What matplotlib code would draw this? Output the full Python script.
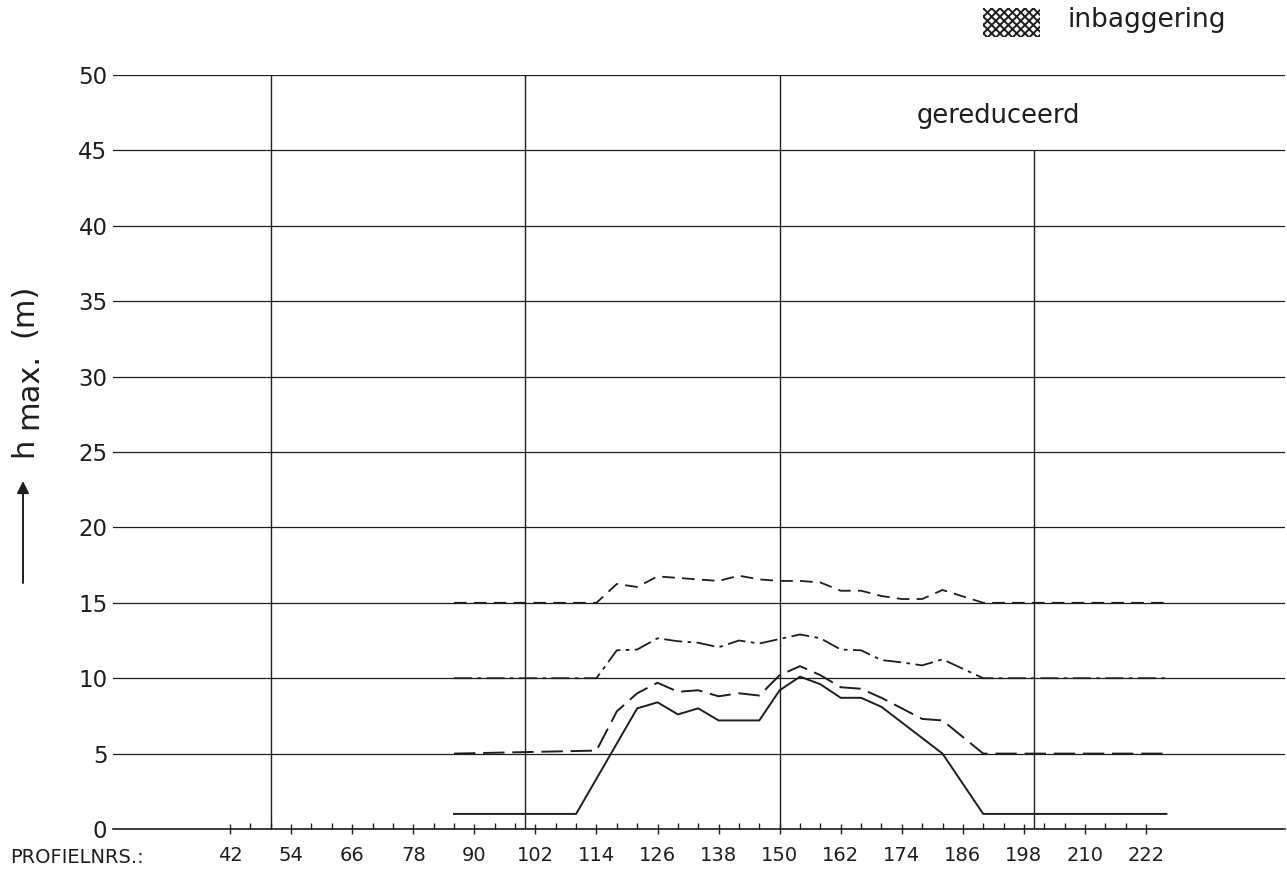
import matplotlib
matplotlib.use("Agg")
import matplotlib.pyplot as plt
from matplotlib.patches import Rectangle, FancyArrowPatch

plt.rcParams['font.family'] = ['DejaVu Sans']

INK = '#1c1f1c'

# profile numbers and h_max (m), four reduced curves
prof_solid = [86, 110, 122, 126, 130, 134, 138, 146, 150, 154, 158, 162, 166, 170, 182, 190, 226]
h_solid = [1.0, 1.0, 8.0, 8.4, 7.6, 8.0, 7.2, 7.2, 9.2, 10.1, 9.6, 8.7, 8.7, 8.1, 5.0, 1.0, 1.0]

prof_curves = [86, 114, 118, 122, 126, 130, 134, 138, 142, 146, 150, 154, 158, 162, 166, 170, 174, 178, 182, 190, 226]
h_longdash = [5.0, 5.2, 7.8, 9.0, 9.7, 9.1, 9.2, 8.8, 9.0, 8.85, 10.2, 10.8, 10.2, 9.4, 9.3, 8.7, 8.0, 7.3, 7.2, 5.0, 5.0]
h_dashdot = [10.0, 10.0, 11.85, 11.9, 12.65, 12.45, 12.35, 12.05, 12.5, 12.3, 12.6, 12.9, 12.65, 11.9, 11.85, 11.2, 11.05, 10.85, 11.25, 10.0, 10.0]
h_dashed = [15.0, 15.0, 16.25, 16.05, 16.75, 16.65, 16.55, 16.45, 16.8, 16.55, 16.45, 16.45, 16.35, 15.8, 15.8, 15.45, 15.25, 15.25, 15.85, 15.0, 15.0]

major_ticks = list(range(42, 223, 12))
minor_ticks = [p for p in range(42, 223, 4) if p not in major_ticks]
y_ticks = list(range(0, 51, 5))
v_grid = [50, 100, 150]

W, H = 1287, 876
fig = plt.figure(figsize=(W / 100, H / 100), dpi=100)
ax = fig.add_axes([113 / W, 47 / H, 1172 / W, 754 / H])
ax.set_xlim(19, 249.3)
ax.set_ylim(0, 50)

for s in ['top', 'right', 'left']:
    ax.spines[s].set_visible(False)
ax.spines['bottom'].set_color(INK)
ax.spines['bottom'].set_linewidth(1.2)

# grid
ax.set_yticks(y_ticks)
ax.yaxis.grid(True, color=INK, lw=0.9)
ax.vlines(v_grid, 0, 50, color=INK, lw=1.0)
ax.vlines(200, 0, 45, color=INK, lw=1.0)
ax.tick_params(axis='y', length=0, pad=4, labelsize=16.5, labelcolor=INK)

ax.set_xticks(major_ticks)
ax.set_xticks(minor_ticks, minor=True)
ax.tick_params(axis='x', which='major', direction='inout', length=7, width=1.0,
               color=INK, pad=9, labelsize=14, labelcolor=INK)
ax.tick_params(axis='x', which='minor', direction='in', length=4, width=1.0, color=INK)

# curves
ax.plot(prof_solid, h_solid, color=INK, lw=1.4, ls='-')
ax.plot(prof_curves, h_longdash, color=INK, lw=1.4, ls=(0, (11, 4)))
ax.plot(prof_curves, h_dashdot, color=INK, lw=1.3, ls=(0, (10, 3, 2, 3)))
ax.plot(prof_curves, h_dashed, color=INK, lw=1.3, ls=(0, (7, 4)))

ax.text(177, 46.8, 'gereduceerd', fontsize=18.5, color=INK, va='baseline', ha='left')

fig.text(10 / W, 1 - 863 / H, 'PROFIELNRS.:', fontsize=14, color=INK, va='baseline', ha='left')

# y label: h max. (m) with arrow, written bottom to top
lbl = dict(rotation=90, rotation_mode='anchor', ha='left', va='baseline', color=INK, fontsize=22)
fig.text(32 / W, 1 - 457 / H, 'h', **lbl)
fig.text(37 / W, 1 - 429 / H, 'max.', **lbl)
fig.text(32 / W, 1 - 337 / H, '(m)', **lbl)
fig.patches.append(FancyArrowPatch(
    (23 / W, 1 - 583 / H), (23 / W, 1 - 481 / H), transform=fig.transFigure,
    arrowstyle='-|>', mutation_scale=18, color=INK, lw=1.4, shrinkA=0, shrinkB=0))

# legend swatch
plt.rcParams['hatch.linewidth'] = 1.4
fig.patches.append(Rectangle((983 / W, 1 - 37 / H), 57 / W, 29 / H, transform=fig.transFigure,
                             facecolor='white', edgecolor=INK, hatch='xxxx', lw=0))
fig.text(1067 / W, 1 - 27 / H, 'inbaggering', fontsize=19, color=INK, va='baseline', ha='left')

fig.savefig('out.png', dpi=100, facecolor='white')
